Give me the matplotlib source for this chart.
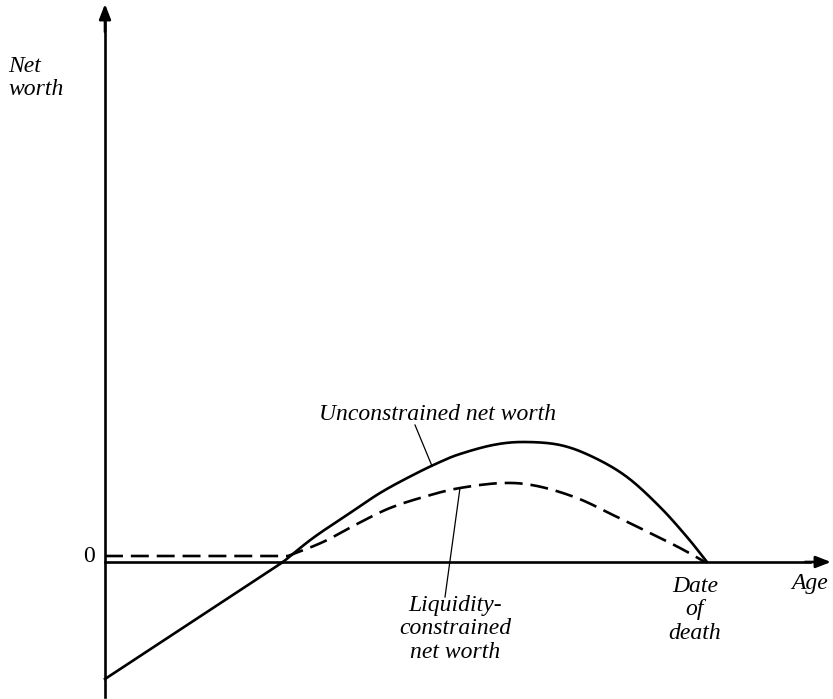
import matplotlib
matplotlib.use("Agg")
import matplotlib.pyplot as plt
import numpy as np

# net worth over the life cycle (age measured from the left axis, 0 = zero net worth)
unc_age = [0, 178, 208, 242, 275, 308, 335, 355, 388, 418, 455, 488, 522, 555, 582, 602]
unc_nw = [-117, 0, 24, 47, 69, 87, 100, 108, 117, 120, 117, 105, 85, 55, 25, 0]

liq_age = [0, 183, 218, 252, 285, 322, 355, 398, 432, 472, 508, 545, 575, 600]
liq_nw = [6, 6, 20, 38, 54, 66, 74, 79, 76, 64, 47, 29, 14, 0]


def smooth(xs, ys, n=20):
    # catmull-rom pass through the read points, only for drawing
    p = np.column_stack([xs, ys]).astype(float)
    p = np.vstack([2 * p[0] - p[1], p, 2 * p[-1] - p[-2]])
    out = []
    t = np.linspace(0, 1, n, endpoint=False)[:, None]
    for i in range(1, len(p) - 2):
        p0, p1, p2, p3 = p[i - 1], p[i], p[i + 1], p[i + 2]
        seg = 0.5 * ((2 * p1) + (-p0 + p2) * t + (2 * p0 - 5 * p1 + 4 * p2 - p3) * t ** 2
                     + (-p0 + 3 * p1 - 3 * p2 + p3) * t ** 3)
        out.append(seg)
    out.append(p[-2][None, :])
    out = np.vstack(out)
    return out[:, 0], out[:, 1]


fig = plt.figure(figsize=(8.33, 6.99), dpi=100)
ax = fig.add_axes([0, 0, 1, 1])
ax.set_xlim(-105, 728)
ax.set_ylim(-137, 562)
ax.axis("off")

font = dict(family="Liberation Serif", style="italic", fontsize=17)
lw = 1.9
dash = (6.8, 3.0)

# axes with arrows
ax.plot([0, 0], [-135, 540], color="black", lw=lw)
ax.annotate("", xy=(0, 558), xytext=(0, 530),
            arrowprops=dict(arrowstyle="-|>,head_length=0.9,head_width=0.35",
                            color="black", lw=lw, shrinkA=0, shrinkB=0))
ax.plot([0, 705], [0, 0], color="black", lw=lw)
ax.annotate("", xy=(726, 0), xytext=(700, 0),
            arrowprops=dict(arrowstyle="-|>,head_length=0.9,head_width=0.35",
                            color="black", lw=lw, shrinkA=0, shrinkB=0))

# curves: straight stretch, then smooth hump
ax.plot(unc_age[:2], unc_nw[:2], color="black", lw=lw)
sx, sy = smooth(unc_age[1:], unc_nw[1:])
ax.plot(sx, sy, color="black", lw=lw, solid_joinstyle="round")

lx, ly = smooth(liq_age[1:], liq_nw[1:])
lx = np.concatenate([liq_age[:1], lx])
ly = np.concatenate([liq_nw[:1], ly])
ax.plot(lx, ly, color="black", lw=lw, dashes=dash)

# leader lines
ax.plot([310, 327], [137, 96], color="black", lw=0.9)
ax.plot([355, 340], [74, -35], color="black", lw=0.9)

# labels
ax.text(-97, 484, "Net\nworth", ha="left", va="center", linespacing=1.15, **font)
ax.text(333, 147, "Unconstrained net worth", ha="center", va="center", **font)
ax.text(350, -67, "Liquidity-\nconstrained\nnet worth", ha="center", va="center",
        linespacing=1.15, **font)
ax.text(590, -48, "Date\nof\ndeath", ha="center", va="center", linespacing=1.15, **font)
ax.text(705, -21, "Age", ha="center", va="center", **font)
ax.text(-10, 6, "0", ha="right", va="center", family="Liberation Serif", fontsize=17)

fig.savefig("out.png", dpi=100)
